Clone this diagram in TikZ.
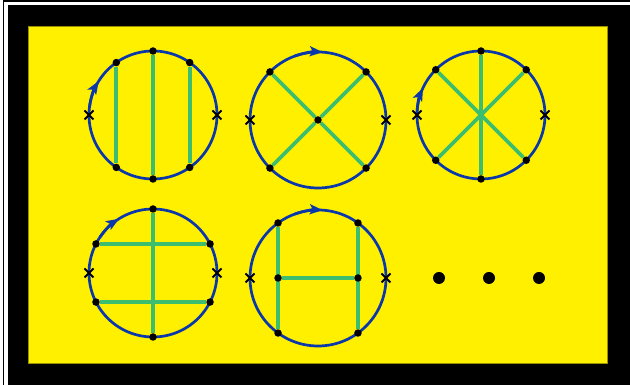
\documentclass[tikz,border=0pt]{standalone}
\usetikzlibrary{arrows.meta, shapes.misc, calc, backgrounds}
\definecolor{bgyellow}  {RGB}{255, 240, 0}
\definecolor{loopblue}  {RGB}{10, 55, 170}
\definecolor{propgreen} {RGB}{60, 190, 110}
\tikzset{
	loopline/.style={
		draw=loopblue, line width=2.7pt
	},
	arrowtip/.style={
		-{Stealth[length=13pt, width=10pt, inset=3pt]}, draw=loopblue, fill=loopblue, line width=2.7pt
	},
	prop/.style={
		draw=propgreen, line width=3.8pt
	},
	vertex/.style={
		circle, fill=black, inner sep=0pt, minimum size=7.5pt
	},
	crossmark/.style={
		cross out, draw=black, line width=2pt, inner sep=0pt, minimum size=7pt
	},
	bigdot/.style={
		circle, fill=black, inner sep=0pt, minimum size=12pt
	}
}

\begin{document}
\begin{tikzpicture}[x=1pt, y=1pt]
		
		\useasboundingbox (0,0) rectangle (630,385);
		
		%% frame
		\begin{scope}[on background layer]
			\fill[black] (8,0) rectangle (630,380);
			\draw[black, line width=2pt] (3,384) -- (630,384);
			\draw[black, line width=1.5pt] (3.5,0) -- (3.5,385);
			\filldraw[fill=bgyellow, draw=black!40!bgyellow, line width=0.8pt] (28,22) rectangle (607,359);
		\end{scope}
		
		%% diagram 1 — three vertical rungs
		\coordinate (c1) at (153,270);
		\draw[loopline] (c1) circle[radius=64];
		\draw[arrowtip] ($(c1)+(172:64)$) arc[start angle=172, end angle=148, radius=64];
		\foreach \a/\n in {90/t, 270/b, 125/tl, 55/tr, 235/bl, 305/br}
			\node[vertex] (d1\n) at ($(c1)+(\a:64)$) {};
		\node[crossmark] (d1x1) at ($(c1)+(180:64)$) {};
		\node[crossmark] (d1x2) at ($(c1)+(0:64)$) {};
		\begin{scope}[on background layer]
			\draw[prop] (d1tl) -- (d1bl);
			\draw[prop] (d1t) -- (d1b);
			\draw[prop] (d1tr) -- (d1br);
		\end{scope}
		
		%% diagram 2 — four-point cross
		\coordinate (c2) at (318,265);
		\draw[loopline] (c2) circle[radius=68];
		\draw[arrowtip] ($(c2)+(110:68)$) arc[start angle=110, end angle=86, radius=68];
		\foreach \a/\n in {135/tl, 45/tr, 225/bl, 315/br}
			\node[vertex] (d2\n) at ($(c2)+(\a:68)$) {};
		\node[vertex] (d2m) at (c2) {};
		\node[crossmark] (d2x1) at ($(c2)+(180:68)$) {};
		\node[crossmark] (d2x2) at ($(c2)+(0:68)$) {};
		\begin{scope}[on background layer]
			\foreach \n in {tl, tr, bl, br}
				\draw[prop] (d2\n) -- (d2m);
		\end{scope}
		
		%% diagram 3 — three crossing chords
		\coordinate (c3) at (481,270);
		\draw[loopline] (c3) circle[radius=64];
		\draw[arrowtip] ($(c3)+(179:64)$) arc[start angle=179, end angle=155, radius=64];
		\foreach \a/\n in {90/t, 270/b, 135/tl, 45/tr, 225/bl, 315/br}
			\node[vertex] (d3\n) at ($(c3)+(\a:64)$) {};
		\node[crossmark] (d3x1) at ($(c3)+(180:64)$) {};
		\node[crossmark] (d3x2) at ($(c3)+(0:64)$) {};
		\begin{scope}[on background layer]
			\draw[prop] (d3t) -- (d3b);
			\draw[prop] (d3tl) -- (d3br);
			\draw[prop] (d3tr) -- (d3bl);
		\end{scope}
		
		%% diagram 4 — two rungs and one vertical
		\coordinate (c4) at (153,112);
		\draw[loopline] (c4) circle[radius=64];
		\draw[arrowtip] ($(c4)+(146:64)$) arc[start angle=146, end angle=122, radius=64];
		\foreach \a/\n in {90/t, 270/b, 153/tl, 27/tr, 207/bl, 333/br}
			\node[vertex] (d4\n) at ($(c4)+(\a:64)$) {};
		\node[crossmark] (d4x1) at ($(c4)+(180:64)$) {};
		\node[crossmark] (d4x2) at ($(c4)+(0:64)$) {};
		\begin{scope}[on background layer]
			\draw[prop] (d4tl) -- (d4tr);
			\draw[prop] (d4bl) -- (d4br);
			\draw[prop] (d4t) -- (d4b);
		\end{scope}
		
		%% diagram 5 — H shape
		\coordinate (c5) at (318,107);
		\draw[loopline] (c5) circle[radius=68];
		\draw[arrowtip] ($(c5)+(110:68)$) arc[start angle=110, end angle=86, radius=68];
		\foreach \a/\n in {126/tl, 54/tr, 234/bl, 306/br}
			\node[vertex] (d5\n) at ($(c5)+(\a:68)$) {};
		\node[vertex] (d5ml) at ($(d5tl)!.5!(d5bl)$) {};
		\node[vertex] (d5mr) at ($(d5tr)!.5!(d5br)$) {};
		\node[crossmark] (d5x1) at ($(c5)+(180:68)$) {};
		\node[crossmark] (d5x2) at ($(c5)+(0:68)$) {};
		\begin{scope}[on background layer]
			\draw[prop] (d5tl) -- (d5bl);
			\draw[prop] (d5tr) -- (d5br);
			\draw[prop] (d5ml) -- (d5mr);
		\end{scope}
		
		%% dots
		\foreach \x/\n in {439/1, 489/2, 539/3}
			\node[bigdot] (dot\n) at (\x,107) {};
		
	\end{tikzpicture}
\end{document}
